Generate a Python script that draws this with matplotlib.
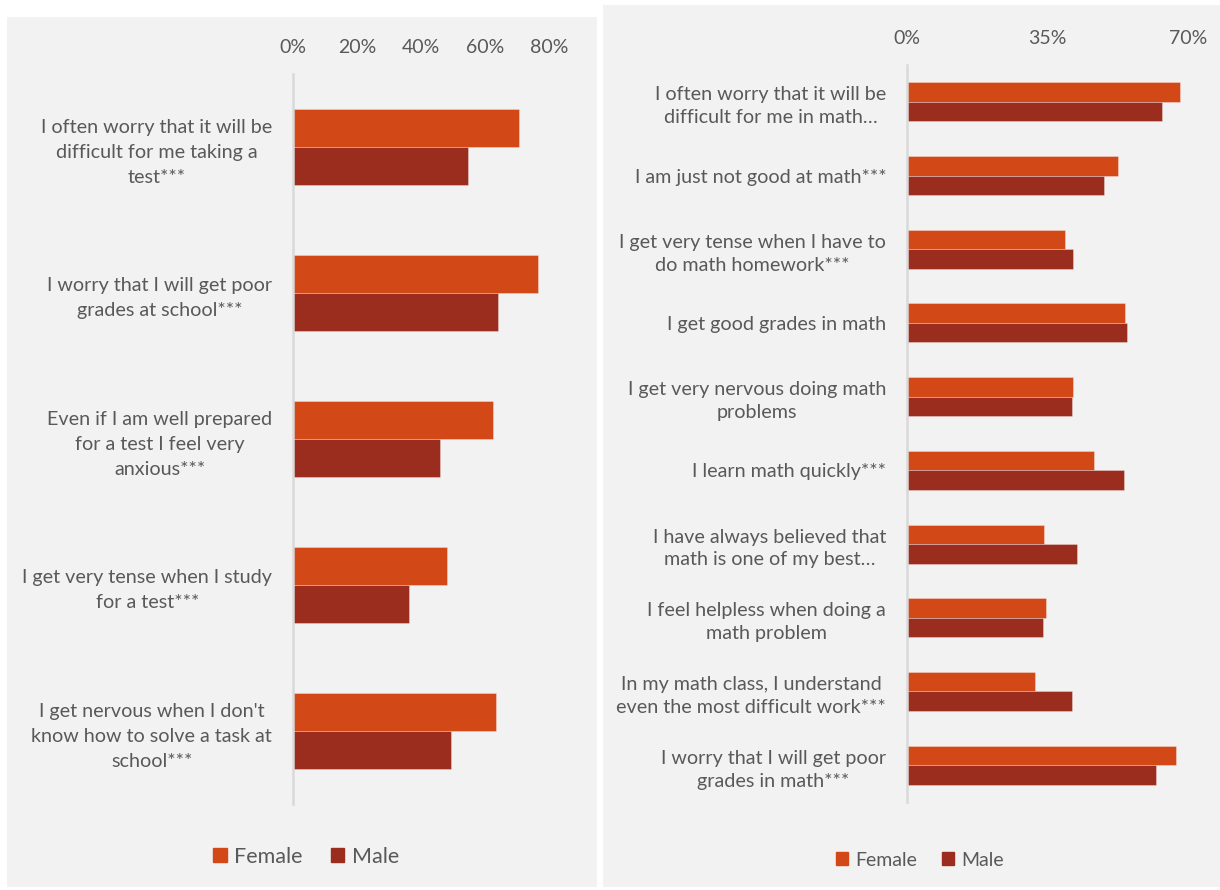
import matplotlib
matplotlib.use("Agg")
import matplotlib.pyplot as plt
from matplotlib.patches import Rectangle, Patch
from matplotlib.ticker import PercentFormatter
import numpy as np

plt.rcParams['font.family'] = ['Lato', 'DejaVu Sans']

FEMALE = '#D34817'
MALE = '#9B2D1F'
TEXT = '#595959'
PANEL = '#F2F2F2'

# general test anxiety items (share agreeing, %)
left_labels = [
    "I often worry that it will be\ndifficult for me taking a\ntest***",
    "I worry that I will get poor\ngrades at school***",
    "Even if I am well prepared\nfor a test I feel very\nanxious***",
    "I get very tense when I study\nfor a test***",
    "I get nervous when I don't\nknow how to solve a task at\nschool***",
]
left_female = [70.5, 76.7, 62.4, 48.2, 63.4]
left_male = [54.6, 64.2, 45.8, 36.3, 49.5]
left_ticks = [0, 20, 40, 60, 80]

# math anxiety / self-concept items (share agreeing, %)
right_labels = [
    "I often worry that it will be\ndifficult for me in math\u2026",
    "I am just not good at math***",
    "I get very tense when I have to\ndo math homework***",
    "I get good grades in math",
    "I get very nervous doing math\nproblems",
    "I learn math quickly***",
    "I have always believed that\nmath is one of my best\u2026",
    "I feel helpless when doing a\nmath problem",
    "In my math class, I understand\neven the most difficult work***",
    "I worry that I will get poor\ngrades in math***",
]
right_female = [67.9, 52.6, 39.3, 54.4, 41.3, 46.5, 34.2, 34.6, 31.8, 67.1]
right_male = [63.5, 49.1, 41.3, 54.7, 41.0, 54.0, 42.3, 33.8, 41.0, 62.0]
right_ticks = [0, 35, 70]

W, H = 1220, 890
fig = plt.figure(figsize=(W / 100, H / 100), dpi=100, facecolor='white')


def px_rect(x0, y0, x1, y1):
    # pixel box (top-left origin) -> figure fraction [left, bottom, width, height]
    return [x0 / W, 1 - y1 / H, (x1 - x0) / W, (y1 - y0) / H]


# grey chart-area backgrounds, kept underneath the axes
for box in [(7, 17, 597, 887), (603, 5, 1220, 887)]:
    l, b, w, h = px_rect(*box)
    fig.patches.append(Rectangle((l, b), w, h, transform=fig.transFigure,
                                 facecolor=PANEL, edgecolor='none', zorder=-5))


def bar_panel(rect, labels, female, male, ticks, bar_h, fsize, spacing,
              leg_size, leg_xy):
    ax = fig.add_axes(rect)
    ax.set_facecolor('none')
    y = np.arange(len(labels))
    edge = dict(edgecolor=(1, 1, 1, 0.3), linewidth=0.7)
    ax.barh(y - bar_h / 2, female, height=bar_h, color=FEMALE, label='Female', **edge)
    ax.barh(y + bar_h / 2, male, height=bar_h, color=MALE, label='Male', **edge)
    ax.set_ylim(len(labels) - 0.5, -0.5)
    ax.set_xlim(ticks[0], ticks[-1])
    ax.set_xticks(ticks)
    ax.xaxis.set_major_formatter(PercentFormatter(100, decimals=0))
    ax.xaxis.tick_top()
    ax.set_yticks(y, labels)
    ax.tick_params(axis='x', length=0, pad=13, labelsize=14, labelcolor=TEXT)
    ax.tick_params(axis='y', length=0, pad=15, labelsize=fsize, labelcolor=TEXT)
    for lbl in ax.get_yticklabels():
        lbl.set_multialignment('center')
        lbl.set_linespacing(spacing)
    for side in ['top', 'right', 'bottom']:
        ax.spines[side].set_visible(False)
    ax.spines['left'].set_color('#D9D9D9')
    ax.spines['left'].set_linewidth(1.8)
    handles = [Patch(color=FEMALE, label='Female'), Patch(color=MALE, label='Male')]
    fig.legend(handles=handles, loc='center', bbox_to_anchor=leg_xy,
               bbox_transform=fig.transFigure, ncol=2, frameon=False,
               fontsize=leg_size, labelcolor=TEXT, handlelength=0.62,
               handleheight=0.62, handletextpad=0.35, columnspacing=1.3)
    return ax


bar_panel(px_rect(293, 74, 549, 804), left_labels, left_female, left_male,
          left_ticks, 0.26, 14.2, 1.55, 15.5, (306 / W, 1 - 857 / H))
bar_panel(px_rect(907, 65, 1188, 802), right_labels, right_female, right_male,
          right_ticks, 0.265, 14.2, 1.42, 14, (920 / W, 1 - 860 / H))

fig.savefig('out.png', dpi=100, facecolor='white')
